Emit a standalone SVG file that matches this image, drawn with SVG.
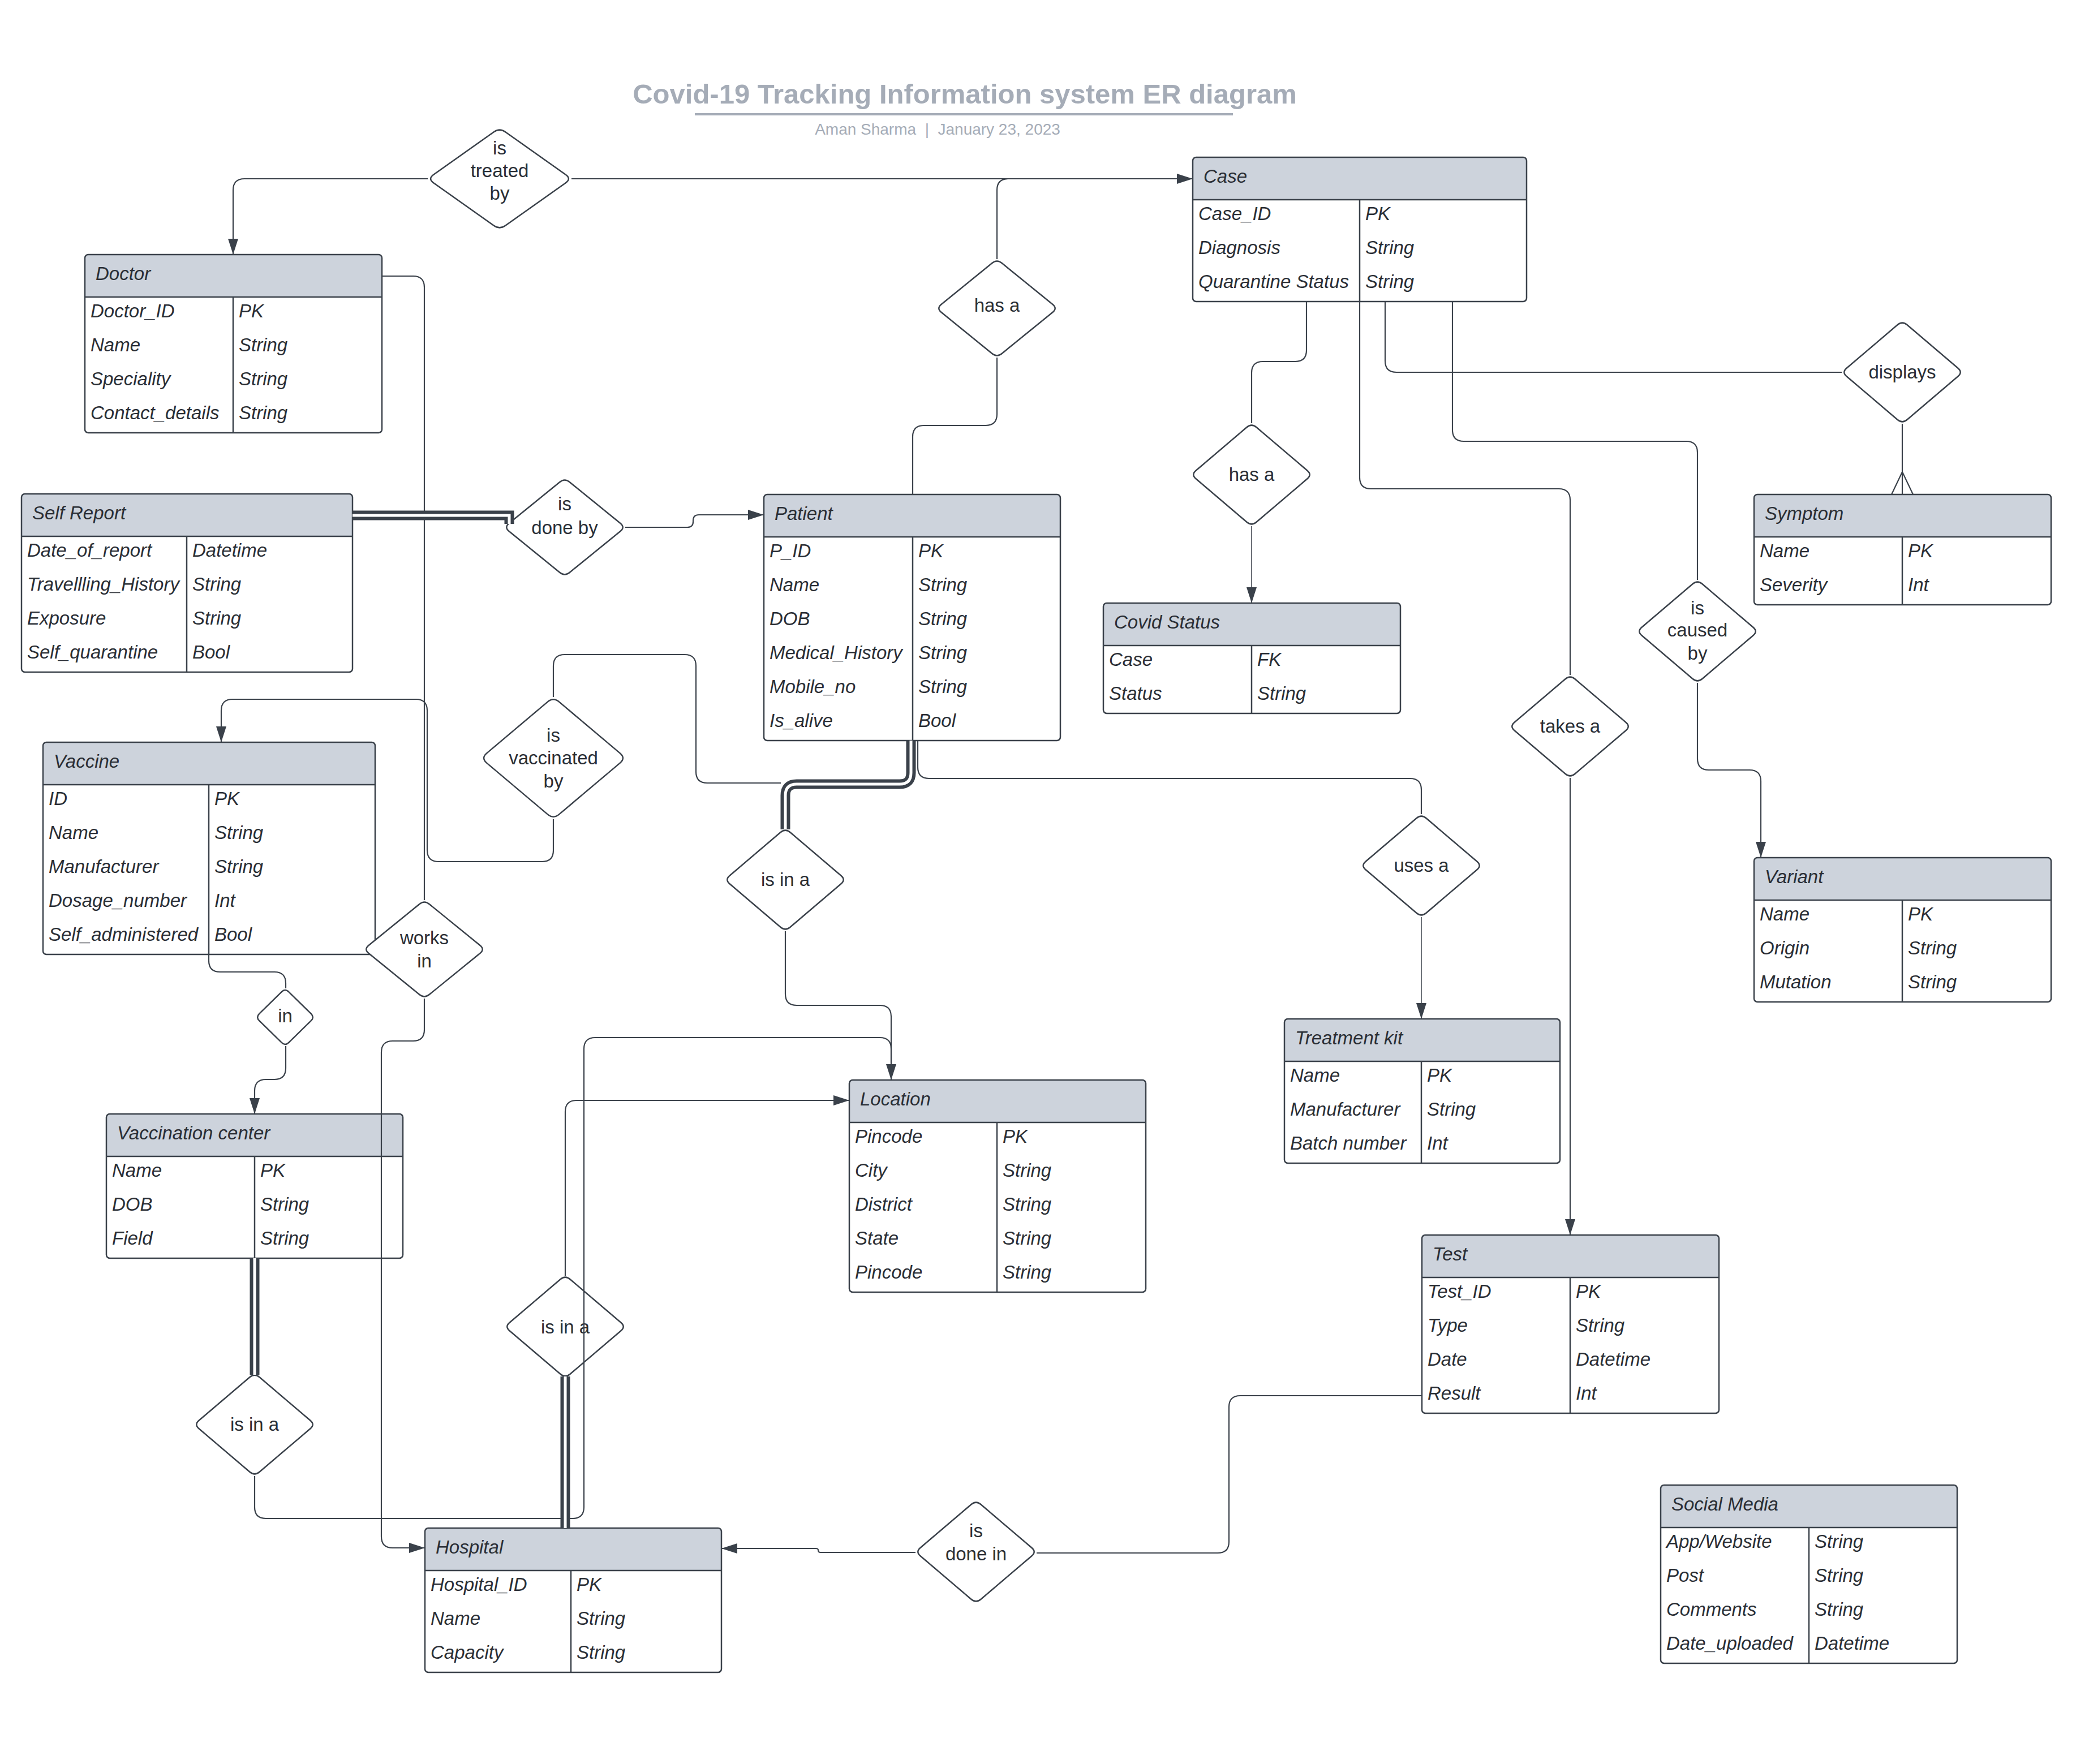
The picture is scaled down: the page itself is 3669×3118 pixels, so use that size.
<svg xmlns="http://www.w3.org/2000/svg" xmlns:xlink="http://www.w3.org/1999/xlink" width="3669" height="3118" viewBox="0 0 3669 3118">
  <style>
    text { font-family: "Liberation Sans", Arial, sans-serif; fill: #2a2e35; }
    .title { font-size: 49px; font-weight: bold; fill: #a5acb7; text-anchor: middle; }
    .sub { font-size: 28px; fill: #a5acb7; text-anchor: middle; white-space: pre; }
    .ent { font-size: 33px; font-style: italic; }
    .rel { font-size: 33px; text-anchor: middle; }
    .body { fill: #ffffff; stroke: none; }
    .hdr { fill: #cdd3dc; stroke: none; }
    .frame { fill: none; stroke: #3a414a; stroke-width: 2.5; }
    .sep { fill: none; stroke: #3a414a; stroke-width: 2.5; }
    .dia { fill: #ffffff; stroke: #3a414a; stroke-width: 2.5; }
    .ln { fill: none; stroke: #3a414a; stroke-width: 2.2; }
    .thin { fill: none; stroke: #3a414a; stroke-width: 1.5; }
    .dbl { fill: none; stroke: #3a414a; stroke-width: 17; }
    .dbl-in { fill: none; stroke: #ffffff; stroke-width: 5; }
  </style>
  <defs>
    <marker id="arr" markerUnits="userSpaceOnUse" markerWidth="28" markerHeight="18" refX="28" refY="9" orient="auto">
      <path d="M0,0 L28,9 L0,18 Z" fill="#3a414a"/>
    </marker>
    <path id="dStd" class="dia" d="M-8.6,-83.7 Q0,-91 8.6,-83.7 L98.4,-7.3 Q107,0 98.4,7.3 L8.6,83.7 Q0,91 -8.6,83.7 L-98.4,7.3 Q-107,0 -98.4,-7.3 Z"/>
    <path id="dShort" class="dia" d="M-8.6,-80 Q0,-87 8.6,-80 L98.4,-7 Q107,0 98.4,7 L8.6,80 Q0,87 -8.6,80 L-98.4,7 Q-107,0 -98.4,-7 Z"/>
    <path id="dWide" class="dia" d="M-10.2,-82.8 Q0,-90 10.2,-82.8 L116.8,-7.2 Q127,0 116.8,7.2 L10.2,82.8 Q0,90 -10.2,82.8 L-116.8,7.2 Q-127,0 -116.8,-7.2 Z"/>
    <path id="dBig" class="dia" d="M-10.2,-99.4 Q0,-108 10.2,-99.4 L117.8,-8.6 Q128,0 117.8,8.6 L10.2,99.4 Q0,108 -10.2,99.4 L-117.8,8.6 Q-128,0 -117.8,-8.6 Z"/>
    <path id="dSmall" class="dia" d="M-6.2,-44.9 Q0,-51 6.2,-44.9 L45.8,-6.1 Q52,0 45.8,6.1 L6.2,44.9 Q0,51 -6.2,44.9 L-45.8,6.1 Q-52,0 -45.8,-6.1 Z"/>
  </defs>

  <rect width="3669" height="3118" fill="#ffffff"/>

  <!-- heading -->
  <g id="heading">
    <text class="title" x="1705" y="183">Covid-19 Tracking Information system ER diagram</text>
    <rect x="1228" y="200" width="951" height="4" fill="#a5acb7"/>
    <text class="sub" x="1657" y="238">Aman Sharma  |  January 23, 2023</text>
  </g>

  <!-- entities -->
  <g id="doctor" transform="translate(150,450)">
    <rect class="body" width="525" height="315" rx="6"/>
    <path class="hdr" d="M0,75 V6 Q0,0 6,0 H519 Q525,0 525,6 V75 Z"/>
    <rect class="frame" width="525" height="315" rx="6"/>
    <path class="sep" d="M0,75 H525 M262,75 V315"/>
    <text class="ent" x="19" y="45">Doctor</text>
    <text class="ent" x="10" y="111">Doctor_ID</text><text class="ent" x="272" y="111">PK</text>
    <text class="ent" x="10" y="171">Name</text><text class="ent" x="272" y="171">String</text>
    <text class="ent" x="10" y="231">Speciality</text><text class="ent" x="272" y="231">String</text>
    <text class="ent" x="10" y="291">Contact_details</text><text class="ent" x="272" y="291">String</text>
  </g>

  <g id="case" transform="translate(2108,278)">
    <rect class="body" width="590" height="255" rx="6"/>
    <path class="hdr" d="M0,75 V6 Q0,0 6,0 H584 Q590,0 590,6 V75 Z"/>
    <rect class="frame" width="590" height="255" rx="6"/>
    <path class="sep" d="M0,75 H590 M295,75 V255"/>
    <text class="ent" x="19" y="45">Case</text>
    <text class="ent" x="10" y="111">Case_ID</text><text class="ent" x="305" y="111">PK</text>
    <text class="ent" x="10" y="171">Diagnosis</text><text class="ent" x="305" y="171">String</text>
    <text class="ent" x="10" y="231">Quarantine Status</text><text class="ent" x="305" y="231">String</text>
  </g>

  <g id="self-report" transform="translate(38,873)">
    <rect class="body" width="585" height="315" rx="6"/>
    <path class="hdr" d="M0,75 V6 Q0,0 6,0 H579 Q585,0 585,6 V75 Z"/>
    <rect class="frame" width="585" height="315" rx="6"/>
    <path class="sep" d="M0,75 H585 M292,75 V315"/>
    <text class="ent" x="19" y="45">Self Report</text>
    <text class="ent" x="10" y="111">Date_of_report</text><text class="ent" x="302" y="111">Datetime</text>
    <text class="ent" x="10" y="171">Travellling_History</text><text class="ent" x="302" y="171">String</text>
    <text class="ent" x="10" y="231">Exposure</text><text class="ent" x="302" y="231">String</text>
    <text class="ent" x="10" y="291">Self_quarantine</text><text class="ent" x="302" y="291">Bool</text>
  </g>

  <g id="patient" transform="translate(1350,874)">
    <rect class="body" width="524" height="435" rx="6"/>
    <path class="hdr" d="M0,75 V6 Q0,0 6,0 H518 Q524,0 524,6 V75 Z"/>
    <rect class="frame" width="524" height="435" rx="6"/>
    <path class="sep" d="M0,75 H524 M263,75 V435"/>
    <text class="ent" x="19" y="45">Patient</text>
    <text class="ent" x="10" y="111">P_ID</text><text class="ent" x="273" y="111">PK</text>
    <text class="ent" x="10" y="171">Name</text><text class="ent" x="273" y="171">String</text>
    <text class="ent" x="10" y="231">DOB</text><text class="ent" x="273" y="231">String</text>
    <text class="ent" x="10" y="291">Medical_History</text><text class="ent" x="273" y="291">String</text>
    <text class="ent" x="10" y="351">Mobile_no</text><text class="ent" x="273" y="351">String</text>
    <text class="ent" x="10" y="411">Is_alive</text><text class="ent" x="273" y="411">Bool</text>
  </g>

  <g id="covid-status" transform="translate(1950,1066)">
    <rect class="body" width="525" height="195" rx="6"/>
    <path class="hdr" d="M0,75 V6 Q0,0 6,0 H519 Q525,0 525,6 V75 Z"/>
    <rect class="frame" width="525" height="195" rx="6"/>
    <path class="sep" d="M0,75 H525 M262,75 V195"/>
    <text class="ent" x="19" y="45">Covid Status</text>
    <text class="ent" x="10" y="111">Case</text><text class="ent" x="272" y="111">FK</text>
    <text class="ent" x="10" y="171">Status</text><text class="ent" x="272" y="171">String</text>
  </g>

  <g id="symptom" transform="translate(3100,874)">
    <rect class="body" width="525" height="195" rx="6"/>
    <path class="hdr" d="M0,75 V6 Q0,0 6,0 H519 Q525,0 525,6 V75 Z"/>
    <rect class="frame" width="525" height="195" rx="6"/>
    <path class="sep" d="M0,75 H525 M262,75 V195"/>
    <text class="ent" x="19" y="45">Symptom</text>
    <text class="ent" x="10" y="111">Name</text><text class="ent" x="272" y="111">PK</text>
    <text class="ent" x="10" y="171">Severity</text><text class="ent" x="272" y="171">Int</text>
  </g>

  <g id="vaccine" transform="translate(76,1312)">
    <rect class="body" width="587" height="375" rx="6"/>
    <path class="hdr" d="M0,75 V6 Q0,0 6,0 H581 Q587,0 587,6 V75 Z"/>
    <rect class="frame" width="587" height="375" rx="6"/>
    <path class="sep" d="M0,75 H587 M293,75 V375"/>
    <text class="ent" x="19" y="45">Vaccine</text>
    <text class="ent" x="10" y="111">ID</text><text class="ent" x="303" y="111">PK</text>
    <text class="ent" x="10" y="171">Name</text><text class="ent" x="303" y="171">String</text>
    <text class="ent" x="10" y="231">Manufacturer</text><text class="ent" x="303" y="231">String</text>
    <text class="ent" x="10" y="291">Dosage_number</text><text class="ent" x="303" y="291">Int</text>
    <text class="ent" x="10" y="351">Self_administered</text><text class="ent" x="303" y="351">Bool</text>
  </g>

  <g id="variant" transform="translate(3100,1516)">
    <rect class="body" width="525" height="255" rx="6"/>
    <path class="hdr" d="M0,75 V6 Q0,0 6,0 H519 Q525,0 525,6 V75 Z"/>
    <rect class="frame" width="525" height="255" rx="6"/>
    <path class="sep" d="M0,75 H525 M262,75 V255"/>
    <text class="ent" x="19" y="45">Variant</text>
    <text class="ent" x="10" y="111">Name</text><text class="ent" x="272" y="111">PK</text>
    <text class="ent" x="10" y="171">Origin</text><text class="ent" x="272" y="171">String</text>
    <text class="ent" x="10" y="231">Mutation</text><text class="ent" x="272" y="231">String</text>
  </g>

  <g id="treatment-kit" transform="translate(2270,1801)">
    <rect class="body" width="487" height="255" rx="6"/>
    <path class="hdr" d="M0,75 V6 Q0,0 6,0 H481 Q487,0 487,6 V75 Z"/>
    <rect class="frame" width="487" height="255" rx="6"/>
    <path class="sep" d="M0,75 H487 M242,75 V255"/>
    <text class="ent" x="19" y="45">Treatment kit</text>
    <text class="ent" x="10" y="111">Name</text><text class="ent" x="252" y="111">PK</text>
    <text class="ent" x="10" y="171">Manufacturer</text><text class="ent" x="252" y="171">String</text>
    <text class="ent" x="10" y="231">Batch number</text><text class="ent" x="252" y="231">Int</text>
  </g>

  <g id="location" transform="translate(1501,1909)">
    <rect class="body" width="524" height="375" rx="6"/>
    <path class="hdr" d="M0,75 V6 Q0,0 6,0 H518 Q524,0 524,6 V75 Z"/>
    <rect class="frame" width="524" height="375" rx="6"/>
    <path class="sep" d="M0,75 H524 M261,75 V375"/>
    <text class="ent" x="19" y="45">Location</text>
    <text class="ent" x="10" y="111">Pincode</text><text class="ent" x="271" y="111">PK</text>
    <text class="ent" x="10" y="171">City</text><text class="ent" x="271" y="171">String</text>
    <text class="ent" x="10" y="231">District</text><text class="ent" x="271" y="231">String</text>
    <text class="ent" x="10" y="291">State</text><text class="ent" x="271" y="291">String</text>
    <text class="ent" x="10" y="351">Pincode</text><text class="ent" x="271" y="351">String</text>
  </g>

  <g id="vaccination-center" transform="translate(188,1969)">
    <rect class="body" width="524" height="255" rx="6"/>
    <path class="hdr" d="M0,75 V6 Q0,0 6,0 H518 Q524,0 524,6 V75 Z"/>
    <rect class="frame" width="524" height="255" rx="6"/>
    <path class="sep" d="M0,75 H524 M262,75 V255"/>
    <text class="ent" x="19" y="45">Vaccination center</text>
    <text class="ent" x="10" y="111">Name</text><text class="ent" x="272" y="111">PK</text>
    <text class="ent" x="10" y="171">DOB</text><text class="ent" x="272" y="171">String</text>
    <text class="ent" x="10" y="231">Field</text><text class="ent" x="272" y="231">String</text>
  </g>

  <g id="test" transform="translate(2513,2183)">
    <rect class="body" width="525" height="315" rx="6"/>
    <path class="hdr" d="M0,75 V6 Q0,0 6,0 H519 Q525,0 525,6 V75 Z"/>
    <rect class="frame" width="525" height="315" rx="6"/>
    <path class="sep" d="M0,75 H525 M262,75 V315"/>
    <text class="ent" x="19" y="45">Test</text>
    <text class="ent" x="10" y="111">Test_ID</text><text class="ent" x="272" y="111">PK</text>
    <text class="ent" x="10" y="171">Type</text><text class="ent" x="272" y="171">String</text>
    <text class="ent" x="10" y="231">Date</text><text class="ent" x="272" y="231">Datetime</text>
    <text class="ent" x="10" y="291">Result</text><text class="ent" x="272" y="291">Int</text>
  </g>

  <g id="social-media" transform="translate(2935,2625)">
    <rect class="body" width="524" height="315" rx="6"/>
    <path class="hdr" d="M0,75 V6 Q0,0 6,0 H518 Q524,0 524,6 V75 Z"/>
    <rect class="frame" width="524" height="315" rx="6"/>
    <path class="sep" d="M0,75 H524 M262,75 V315"/>
    <text class="ent" x="19" y="45">Social Media</text>
    <text class="ent" x="10" y="111">App/Website</text><text class="ent" x="272" y="111">String</text>
    <text class="ent" x="10" y="171">Post</text><text class="ent" x="272" y="171">String</text>
    <text class="ent" x="10" y="231">Comments</text><text class="ent" x="272" y="231">String</text>
    <text class="ent" x="10" y="291">Date_uploaded</text><text class="ent" x="272" y="291">Datetime</text>
  </g>

  <g id="hospital" transform="translate(751,2701)">
    <rect class="body" width="524" height="255" rx="6"/>
    <path class="hdr" d="M0,75 V6 Q0,0 6,0 H518 Q524,0 524,6 V75 Z"/>
    <rect class="frame" width="524" height="255" rx="6"/>
    <path class="sep" d="M0,75 H524 M258,75 V255"/>
    <text class="ent" x="19" y="45">Hospital</text>
    <text class="ent" x="10" y="111">Hospital_ID</text><text class="ent" x="268" y="111">PK</text>
    <text class="ent" x="10" y="171">Name</text><text class="ent" x="268" y="171">String</text>
    <text class="ent" x="10" y="231">Capacity</text><text class="ent" x="268" y="231">String</text>
  </g>

  <!-- relationships -->
  <g id="rel-is-treated-by" transform="translate(883,316)">
    <use xlink:href="#dWide"/>
    <text class="rel" x="0" y="-43">is</text>
    <text class="rel" x="0" y="-3">treated</text>
    <text class="rel" x="0" y="37">by</text>
  </g>
  <g id="rel-patient-has-case" transform="translate(1762,545)">
    <use xlink:href="#dShort"/>
    <text class="rel" x="0" y="6">has a</text>
  </g>
  <g id="rel-case-has-status" transform="translate(2212,839)">
    <use xlink:href="#dStd"/>
    <text class="rel" x="0" y="11">has a</text>
  </g>
  <g id="rel-displays" transform="translate(3362,658)">
    <use xlink:href="#dStd"/>
    <text class="rel" x="0" y="11">displays</text>
  </g>
  <g id="rel-is-caused-by" transform="translate(3000,1116)">
    <use xlink:href="#dStd"/>
    <text class="rel" x="0" y="-30">is</text>
    <text class="rel" x="0" y="9">caused</text>
    <text class="rel" x="0" y="50">by</text>
  </g>
  <g id="rel-takes-a" transform="translate(2775,1284)">
    <use xlink:href="#dStd"/>
    <text class="rel" x="0" y="11">takes a</text>
  </g>
  <g id="rel-uses-a" transform="translate(2512,1530)">
    <use xlink:href="#dStd"/>
    <text class="rel" x="0" y="11">uses a</text>
  </g>
  <g id="rel-patient-in-location" transform="translate(1388,1555)">
    <use xlink:href="#dStd"/>
    <text class="rel" x="0" y="11">is in a</text>
  </g>
  <g id="rel-is-done-by" transform="translate(998,932)">
    <use xlink:href="#dShort"/>
    <text class="rel" x="0" y="-30">is</text>
    <text class="rel" x="0" y="12">done by</text>
  </g>
  <g id="rel-is-vaccinated-by" transform="translate(978,1340)">
    <use xlink:href="#dBig"/>
    <text class="rel" x="0" y="-29">is</text>
    <text class="rel" x="0" y="11">vaccinated</text>
    <text class="rel" x="0" y="52">by</text>
  </g>
  <g id="rel-works-in" transform="translate(750,1678)">
    <use xlink:href="#dShort"/>
    <text class="rel" x="0" y="-9">works</text>
    <text class="rel" x="0" y="32">in</text>
  </g>
  <g id="rel-in" transform="translate(504,1798)">
    <use xlink:href="#dSmall"/>
    <text class="rel" x="0" y="9">in</text>
  </g>
  <g id="rel-center-in-hospital" transform="translate(450,2518)">
    <use xlink:href="#dStd"/>
    <text class="rel" x="0" y="11">is in a</text>
  </g>
  <g id="rel-hospital-in-location" transform="translate(999,2345)">
    <use xlink:href="#dStd"/>
    <text class="rel" x="0" y="12">is in a</text>
  </g>
  <g id="rel-is-done-in" transform="translate(1725,2743)">
    <use xlink:href="#dStd"/>
    <text class="rel" x="0" y="-26">is</text>
    <text class="rel" x="0" y="15">done in</text>
  </g>

  <!-- connectors -->
  <g id="connectors">
    <!-- is treated by -->
    <path class="ln" d="M756,316 H432 Q412,316 412,336 V450" marker-end="url(#arr)"/>
    <path class="ln" d="M1010,316 H2108" marker-end="url(#arr)"/>
    <!-- patient has a case -->
    <path class="ln" d="M1762,458 V336 Q1762,316 1782,316 H1900"/>
    <path class="ln" d="M1762,632 V732 Q1762,752 1742,752 H1633 Q1613,752 1613,772 V874"/>
    <!-- case has a covid status -->
    <path class="ln" d="M2309,533 V619 Q2309,639 2289,639 H2232 Q2212,639 2212,659 V748"/>
    <path class="thin" d="M2212,930 V1066" marker-end="url(#arr)"/>
    <!-- case displays symptom -->
    <path class="ln" d="M2448,533 V638 Q2448,658 2468,658 H3255"/>
    <path class="ln" d="M3362,749 V874 M3343,874 L3362,834 L3381,874"/>
    <!-- case is caused by variant -->
    <path class="ln" d="M2567,533 V760 Q2567,780 2587,780 H2980 Q3000,780 3000,800 V1025"/>
    <path class="ln" d="M3000,1207 V1341 Q3000,1361 3020,1361 H3092 Q3112,1361 3112,1381 V1516" marker-end="url(#arr)"/>
    <!-- case takes a test -->
    <path class="ln" d="M2403,533 V844 Q2403,864 2423,864 H2755 Q2775,864 2775,884 V1193"/>
    <path class="ln" d="M2775,1375 V2183" marker-end="url(#arr)"/>
    <!-- patient uses a treatment kit -->
    <path class="ln" d="M1622,1309 V1356 Q1622,1376 1642,1376 H2492 Q2512,1376 2512,1396 V1439"/>
    <path class="thin" d="M2512,1621 V1801" marker-end="url(#arr)"/>
    <!-- patient is in a location (double) -->
    <path class="dbl" d="M1610,1309 V1366 Q1610,1386 1590,1386 H1408 Q1388,1386 1388,1406 V1466"/>
    <path class="dbl-in" d="M1610,1309 V1366 Q1610,1386 1590,1386 H1408 Q1388,1386 1388,1406 V1466"/>
    <path class="ln" d="M1388,1646 V1757 Q1388,1777 1408,1777 H1555 Q1575,1777 1575,1797 V1909" marker-end="url(#arr)"/>
    <!-- is vaccinated by -->
    <path class="ln" d="M978,1232 V1177 Q978,1157 998,1157 H1210 Q1230,1157 1230,1177 V1364 Q1230,1384 1250,1384 H1380"/>
    <path class="ln" d="M978,1448 V1503 Q978,1523 958,1523 H775 Q755,1523 755,1503 V1256 Q755,1236 735,1236 H411 Q391,1236 391,1256 V1312" marker-end="url(#arr)"/>
    <!-- vaccine in vaccination center -->
    <path class="ln" d="M369,1687 V1698 Q369,1718 389,1718 H485 Q505,1718 505,1738 V1747"/>
    <path class="ln" d="M505,1849 V1888 Q505,1908 485,1908 H470 Q450,1908 450,1928 V1969" marker-end="url(#arr)"/>
    <!-- doctor works in hospital -->
    <path class="ln" d="M675,488 H730 Q750,488 750,508 V1591"/>
    <path class="ln" d="M750,1765 V1820 Q750,1840 730,1840 H694 Q674,1840 674,1860 V2716 Q674,2736 694,2736 H751" marker-end="url(#arr)"/>
    <!-- vaccination center is in a hospital (double) -->
    <path class="dbl" d="M450,2224 V2430"/>
    <path class="dbl-in" d="M450,2224 V2430"/>
    <path class="ln" d="M450,2609 V2664 Q450,2684 470,2684 H1012 Q1032,2684 1032,2664 V1854 Q1032,1834 1052,1834 H1555 Q1575,1834 1575,1854 V1880"/>
    <!-- hospital is in a location (double) -->
    <path class="dbl" d="M999,2701 V2433"/>
    <path class="dbl-in" d="M999,2701 V2433"/>
    <path class="ln" d="M999,2255 V1965 Q999,1945 1019,1945 H1501" marker-end="url(#arr)"/>
    <!-- test is done in hospital -->
    <path class="ln" d="M2513,2467 H2192 Q2172,2467 2172,2487 V2725 Q2172,2745 2152,2745 H1832"/>
    <path class="ln" d="M1618,2744 H1450 Q1446,2744 1446,2740 Q1446,2737 1442,2737 H1275" marker-end="url(#arr)"/>
    <!-- self report is done by patient (double) -->
    <path class="dbl" d="M623,911 H900 V926"/>
    <path class="dbl-in" d="M623,911 H900 V926"/>
    <path class="ln" d="M1105,932 H1215 Q1225,932 1225,922 V920 Q1225,910 1235,910 H1350" marker-end="url(#arr)"/>
  </g>
</svg>
